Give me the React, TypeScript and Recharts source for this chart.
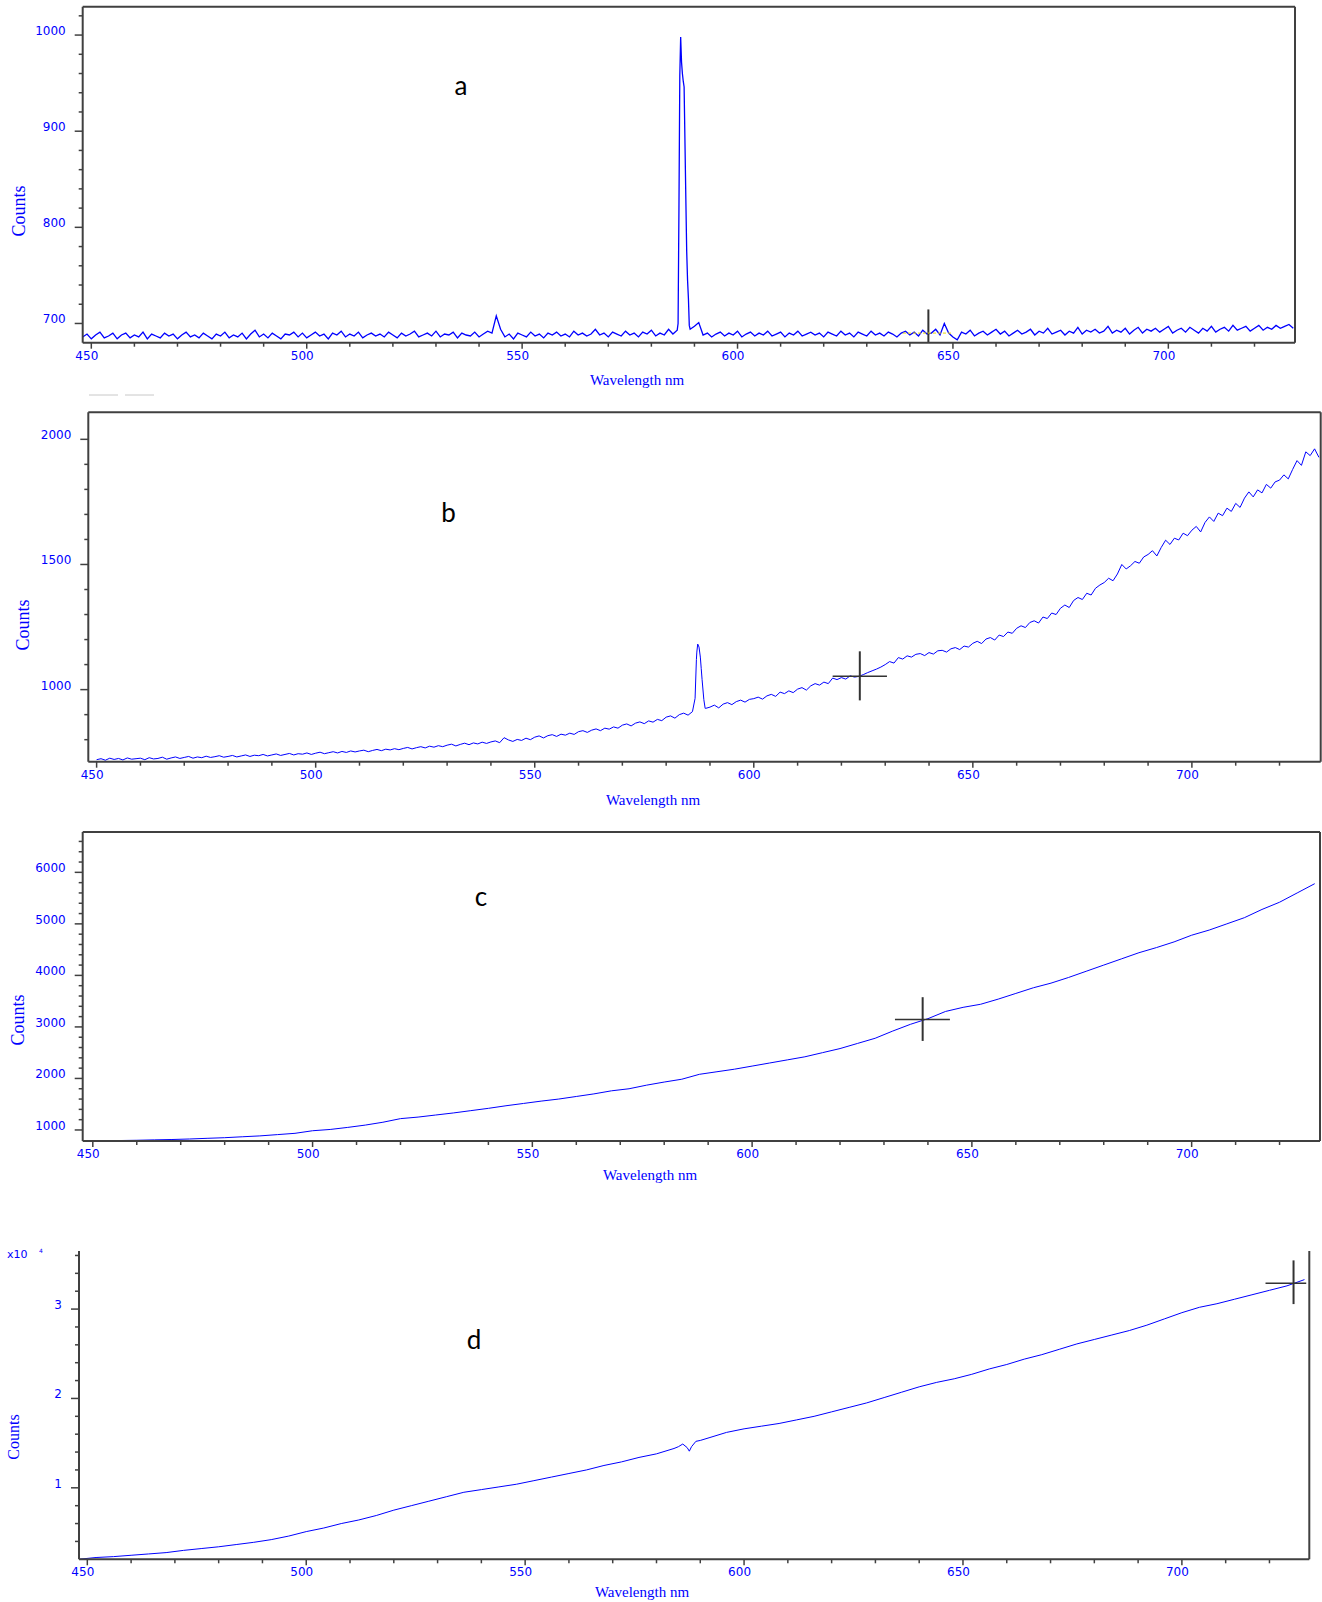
import React from 'react';
import { LineChart, Line, XAxis, YAxis, ReferenceLine } from 'recharts';

const W = 1322;
const H = 1602;
const BLUE = '#0000ff';
const AXIS = '#404040';

// wavelength ticks shared by all four spectra (nm)
const xTicks = [450, 460, 470, 480, 490, 500, 510, 520, 530, 540, 550, 560, 570, 580, 590, 600, 610, 620, 630, 640, 650, 660, 670, 680, 690, 700, 710, 720];
const xMajor = [450, 500, 550, 600, 650, 700];

// spectrum a: counts every 1 nm from 448 nm, plus the sharp line near 587 nm
const countsA = [
  686, 689, 684, 688, 691, 685, 687, 690, 684, 688,
  690, 685, 688, 686, 691, 684, 689, 687, 685, 690,
  687, 689, 684, 688, 691, 686, 688, 685, 690, 687,
  684, 689, 687, 691, 685, 688, 686, 690, 684, 689,
  693, 686, 689, 685, 690, 687, 684, 689, 688, 691,
  686, 690, 685, 688, 691, 687, 689, 684, 690, 688,
  692, 686, 689, 687, 691, 685, 688, 690, 687, 689,
  686, 691, 688, 685, 690, 687, 689, 692, 686, 688,
  690, 687, 692, 686, 689, 688, 691, 685, 690, 688,
  687, 691, 686, 689, 692, 690, 708, 694, 686, 689,
  684, 690, 688, 686, 691, 687, 689, 685, 690, 688,
  691, 687, 689, 686, 692, 688, 690, 687, 689, 694,
  688, 690, 686, 691, 689, 687, 692, 688, 690, 686,
  691, 689, 693, 687, 690, 688, 694, 689, 693, 972,
  830, 694, 697, 701, 688, 690, 686, 689, 691, 687,
  690, 688, 692, 686, 689, 691, 687, 690, 688, 692,
  687, 689, 691, 686, 690, 688, 692, 687, 689, 691,
  688, 690, 686, 691, 689, 687, 692, 688, 690, 686,
  691, 689, 687, 692, 688, 690, 687, 691, 689, 686,
  690, 692, 688, 691, 687, 693, 689, 690, 694, 688,
  700, 690, 686, 683, 691, 689, 693, 687, 690, 692,
  688, 691, 694, 689, 692, 687, 690, 693, 689, 691,
  694, 688, 692, 690, 695, 689, 691, 693, 688, 692,
  690, 696, 689, 693, 691, 694, 690, 692, 697, 690,
  693, 691, 695, 689, 693, 696, 690, 694, 692, 695,
  691, 694, 697, 690, 693, 695, 691, 696, 693, 690,
  695, 692, 697, 691, 694, 696, 692, 698, 693, 695,
  697, 692, 695, 698, 693, 696, 694, 698, 695, 697,
  699, 695,
];
const peakWaveA = [586.2, 586.4, 586.6, 586.8, 587.2, 587.4, 587.6, 587.8, 588.2, 588.4, 588.6, 588.8];
const peakCountsA = [700, 818, 958, 998, 960, 952, 946, 888, 775, 745, 726, 698];
const yTicksA = [700, 720, 740, 760, 780, 800, 820, 840, 860, 880, 900, 920, 940, 960, 980, 1000, 1020];
const yMajorA = [700, 800, 900, 1000];

// spectrum b: counts every 1 nm from 450 nm
const countsB = [
  720, 724, 718, 726, 721, 725, 719, 727, 722, 724,
  726, 720, 728, 723, 725, 730, 722, 727, 731, 725,
  729, 733, 726, 731, 728, 734, 729, 732, 736, 730,
  733, 737, 731, 735, 739, 733, 738, 736, 741, 735,
  739, 743, 737, 741, 745, 739, 744, 742, 747, 741,
  746, 750, 744, 748, 752, 747, 753, 749, 755, 751,
  755, 758, 752, 757, 761, 756, 762, 759, 764, 760,
  765, 769, 763, 768, 772, 767, 774, 770, 776, 772,
  778, 782, 775, 781, 786, 780, 787, 783, 790, 785,
  791, 795, 788, 808, 799, 793, 801, 797, 806, 800,
  810, 815, 807, 816, 820, 813, 822, 818, 826, 821,
  832, 836, 829, 838, 843, 836, 846, 842, 851, 846,
  858, 863, 855, 866, 871, 864, 875, 870, 881, 876,
  890, 895, 886, 900, 906, 898, 912, 1150, 1085, 925,
  930, 938, 927, 942, 948, 940, 952, 958, 950, 961,
  964, 970, 962, 975, 981, 973, 990, 984, 995, 988,
  1002, 1008, 998, 1015, 1024, 1018, 1030, 1024, 1046, 1040,
  1048, 1042, 1055, 1050, 1053, 1060, 1068, 1075, 1082, 1090,
  1100, 1112, 1106, 1128, 1122, 1135, 1130, 1141, 1144, 1136,
  1148, 1142, 1155, 1157, 1150, 1163, 1168, 1160, 1174, 1170,
  1185, 1193, 1184, 1202, 1208, 1198, 1218, 1212, 1230, 1225,
  1245, 1255, 1248, 1268, 1275, 1266, 1290, 1284, 1306, 1300,
  1325, 1338, 1328, 1356, 1368, 1360, 1385, 1378, 1405, 1418,
  1428, 1445, 1435, 1462, 1500, 1482, 1495, 1512, 1505, 1530,
  1540, 1555, 1534, 1568, 1597, 1580, 1605, 1598, 1625, 1615,
  1637, 1652, 1630, 1668, 1690, 1672, 1705, 1695, 1725, 1712,
  1744, 1728, 1765, 1790, 1770, 1798, 1786, 1820, 1805, 1830,
  1837, 1858, 1842, 1880, 1915, 1896, 1950, 1935, 1962, 1928,
];
const peakWaveB = [586.6, 586.9, 587.2, 587.5, 587.8, 588.2, 588.6, 588.9];
const peakCountsB = [965, 1120, 1182, 1170, 1130, 1040, 960, 925];
const yTicksB = [800, 900, 1000, 1100, 1200, 1300, 1400, 1500, 1600, 1700, 1800, 1900, 2000];
const yMajorB = [1000, 1500, 2000];

// spectrum c: counts every 4 nm from 448 nm
const countsC = [
  790, 792, 795, 800, 808, 815, 825, 838, 850, 868,
  885, 910, 935, 985, 1010, 1050, 1095, 1150, 1220, 1250,
  1290, 1330, 1375, 1420, 1470, 1515, 1560, 1600, 1650, 1700,
  1760, 1800, 1870, 1930, 1985, 2080, 2130, 2180, 2240, 2300,
  2360, 2420, 2500, 2580, 2680, 2780, 2920, 3050, 3160, 3300,
  3380, 3440, 3540, 3650, 3760, 3850, 3960, 4080, 4200, 4320,
  4440, 4540, 4650, 4780, 4880, 5000, 5120, 5280, 5420, 5600,
  5780,
];
const yTicksC = [1000, 1200, 1400, 1600, 1800, 2000, 2200, 2400, 2600, 2800, 3000, 3200, 3400, 3600, 3800, 4000, 4200, 4400, 4600, 4800, 5000, 5200, 5400, 5600, 5800, 6000, 6200, 6400, 6600];
const yMajorC = [1000, 2000, 3000, 4000, 5000, 6000];

// spectrum d: counts (x10^4) every 4 nm from 448 nm, plus the dip near 587 nm
const countsD = [
  0.2, 0.22, 0.23, 0.245, 0.26, 0.275, 0.3, 0.32, 0.34, 0.365,
  0.39, 0.42, 0.46, 0.51, 0.55, 0.6, 0.64, 0.69, 0.75, 0.8,
  0.85, 0.9, 0.95, 0.98, 1.01, 1.04, 1.08, 1.12, 1.16, 1.2,
  1.25, 1.29, 1.34, 1.38, 1.44, 1.46, 1.56, 1.62, 1.66, 1.69,
  1.72, 1.76, 1.8, 1.85, 1.9, 1.95, 2.01, 2.07, 2.13, 2.18,
  2.22, 2.27, 2.33, 2.38, 2.44, 2.49, 2.55, 2.61, 2.66, 2.71,
  2.76, 2.82, 2.89, 2.96, 3.02, 3.06, 3.11, 3.16, 3.21, 3.26,
  3.33,
];
const dipWaveD = [585, 586, 587, 587.5, 589, 590];
const dipCountsD = [1.46, 1.49, 1.45, 1.41, 1.52, 1.53];
const yTicksD = [0.4, 0.6, 0.8, 1, 1.2, 1.4, 1.6, 1.8, 2, 2.2, 2.4, 2.6, 2.8, 3, 3.2, 3.4, 3.6];
const yMajorD = [1, 2, 3];

type Pt = { wl: number; v: number };
const rows = (start: number, step: number, values: number[]): Pt[] =>
  values.map((v, i) => ({ wl: Math.round((start + i * step) * 10) / 10, v }));
const extra = (waves: number[], values: number[]): Pt[] => waves.map((wl, i) => ({ wl, v: values[i] }));
const byWl = (p: Pt, q: Pt) => p.wl - q.wl;

const dataA = [...rows(448, 1, countsA), ...extra(peakWaveA, peakCountsA)].sort(byWl);
const dataB = [...rows(450, 1, countsB), ...extra(peakWaveB, peakCountsB)].sort(byWl);
const dataC = rows(448, 4, countsC);
const dataD = [...rows(448, 4, countsD), ...extra(dipWaveD, dipCountsD)].sort(byWl);

const panels = [
  {
    key: 'a', data: dataA, top: 0, height: 400,
    plot: { left: 82.7, right: 1295, top: 6.7, bottom: 342.7 },
    xDomain: [448, 729.4], yDomain: [680, 1029.5], yTicks: yTicksA, yMajor: yMajorA,
    frameTop: true, lineWidth: 1.3,
    cursor: { x: 644.3, y: 690, x1: 638.4, x2: 650, yTop: 714.6, yBottom: 680, dark: false },
  },
  {
    key: 'b', data: dataB, top: 400, height: 420,
    plot: { left: 88.3, right: 1320.7, top: 412.3, bottom: 761.7 },
    xDomain: [448.1, 729.4], yDomain: [712, 2108], yTicks: yTicksB, yMajor: yMajorB,
    frameTop: true, lineWidth: 1,
    cursor: { x: 624.2, y: 1053, x1: 618, x2: 630.4, yTop: 1153, yBottom: 957, dark: true },
  },
  {
    key: 'c', data: dataC, top: 820, height: 380,
    plot: { left: 82.7, right: 1320, top: 832, bottom: 1141 },
    xDomain: [447.7, 729.2], yDomain: [786, 6783], yTicks: yTicksC, yMajor: yMajorC,
    frameTop: true, lineWidth: 1,
    cursor: { x: 638.8, y: 3142, x1: 632.5, x2: 645, yTop: 3577, yBottom: 2728, dark: true },
  },
  {
    key: 'd', data: dataD, top: 1200, height: 402,
    plot: { left: 79, right: 1309.3, top: 1251, bottom: 1559.3 },
    xDomain: [448.1, 729.1], yDomain: [0.2, 3.65], yTicks: yTicksD, yMajor: yMajorD,
    frameTop: false, lineWidth: 1,
    cursor: { x: 725.5, y: 3.29, x1: 719.1, x2: 728.4, yTop: 3.545, yBottom: 3.056, dark: true },
  },
];

const tickFont = { fontFamily: 'DejaVu Sans', fontSize: 12, fill: BLUE };

const renderXTick = (props: any) => {
  const { x, y, payload } = props;
  const major = xMajor.includes(payload.value);
  return (
    <g key={`xt-${payload.value}`}>
      <line x1={x} x2={x} y1={y} y2={y + (major ? 6 : 4)} stroke={AXIS} strokeWidth={1.5} />
      {major && (
        <text x={x - 4.5} y={y + 17} textAnchor="middle" {...tickFont}>
          {payload.value}
        </text>
      )}
    </g>
  );
};

const makeYTick = (majors: number[]) => (props: any) => {
  const { x, y, payload } = props;
  const major = majors.includes(payload.value);
  return (
    <g key={`yt-${payload.value}`}>
      <line x1={x - (major ? 8 : 4)} x2={x} y1={y} y2={y} stroke={AXIS} strokeWidth={1.5} />
      {major && (
        <text x={x - 17} y={y} textAnchor="end" {...tickFont}>
          {payload.value}
        </text>
      )}
    </g>
  );
};

function Panel({ cfg }: { cfg: (typeof panels)[number] }) {
  const { plot, top, height, cursor } = cfg;
  const bottomSpace = top + height - plot.bottom;
  const margin = { top: plot.top - top, bottom: 0, left: 0, right: W - plot.right };
  const cursorColor = '#333333';
  return (
    <div style={{ position: 'absolute', left: 0, top }}>
      <LineChart width={W} height={height} data={cfg.data} margin={margin}>
        <XAxis
          dataKey="wl"
          type="number"
          domain={cfg.xDomain}
          allowDataOverflow
          ticks={xTicks}
          interval={0}
          height={bottomSpace}
          tickSize={0}
          tickMargin={0}
          tickLine={false}
          axisLine={{ stroke: AXIS, strokeWidth: 2 }}
          tick={renderXTick}
        />
        <YAxis
          type="number"
          domain={cfg.yDomain}
          allowDataOverflow
          ticks={cfg.yTicks}
          interval={0}
          width={plot.left}
          tickSize={0}
          tickMargin={0}
          tickLine={false}
          axisLine={{ stroke: AXIS, strokeWidth: 2 }}
          tick={makeYTick(cfg.yMajor)}
        />
        {cfg.frameTop && <ReferenceLine y={cfg.yDomain[1]} stroke={AXIS} strokeWidth={2} />}
        <ReferenceLine x={cfg.xDomain[1]} stroke={AXIS} strokeWidth={2} />
        <Line
          type="linear"
          dataKey="v"
          stroke={BLUE}
          strokeWidth={cfg.lineWidth}
          dot={false}
          isAnimationActive={false}
        />
        <ReferenceLine
          segment={[{ x: cursor.x, y: cursor.yBottom }, { x: cursor.x, y: cursor.yTop }]}
          stroke={cursorColor}
          strokeWidth={2}
        />
        <ReferenceLine
          segment={[{ x: cursor.x1, y: cursor.y }, { x: cursor.x2, y: cursor.y }]}
          stroke={cursor.dark ? cursorColor : '#e8d800'}
          strokeWidth={cursor.dark ? 1.5 : 1}
          strokeDasharray={cursor.dark ? undefined : '3 2'}
        />
      </LineChart>
    </div>
  );
}

const countsLabels = [
  { x: 25, y: 211, size: 18 },
  { x: 29.3, y: 625, size: 18 },
  { x: 24, y: 1020, size: 18 },
  { x: 19, y: 1437, size: 16 },
];
const xLabels = [
  { x: 637, y: 385 },
  { x: 653, y: 805 },
  { x: 650, y: 1180 },
  { x: 642, y: 1597 },
];
const letters = [
  { t: 'a', x: 461, y: 95 },
  { t: 'b', x: 448.5, y: 522 },
  { t: 'c', x: 481, y: 906 },
  { t: 'd', x: 474, y: 1349 },
];

export default function App() {
  return (
    <div style={{ position: 'absolute', left: 0, top: 0, width: W, height: H, overflow: 'hidden', background: '#fff' }}>
      {panels.map((p) => (
        <Panel key={p.key} cfg={p} />
      ))}
      <svg width={W} height={H} style={{ position: 'absolute', left: 0, top: 0, pointerEvents: 'none' }}>
        {countsLabels.map((c, i) => (
          <text
            key={`cl-${i}`}
            x={c.x}
            y={c.y}
            transform={`rotate(-90 ${c.x} ${c.y})`}
            textAnchor="middle"
            fontFamily="Liberation Serif"
            fontSize={c.size}
            fill={BLUE}
          >
            Counts
          </text>
        ))}
        {xLabels.map((c, i) => (
          <text key={`xl-${i}`} x={c.x} y={c.y} textAnchor="middle" fontFamily="Liberation Serif" fontSize={15} fill={BLUE}>
            Wavelength nm
          </text>
        ))}
        {letters.map((l) => (
          <text key={l.t} x={l.x} y={l.y} textAnchor="middle" fontFamily="Lato" fontSize={26} fill="#000">
            {l.t}
          </text>
        ))}
        <text x={7} y={1258} fontFamily="DejaVu Sans" fontSize={11} fill={BLUE}>
          x10
        </text>
        <text x={39} y={1253} fontFamily="DejaVu Sans" fontSize={6} fill={BLUE}>
          4
        </text>
        <line x1={89} x2={118} y1={395} y2={395} stroke="#c8c8c8" strokeWidth={1} />
        <line x1={125} x2={154} y1={395} y2={395} stroke="#c8c8c8" strokeWidth={1} />
      </svg>
    </div>
  );
}
